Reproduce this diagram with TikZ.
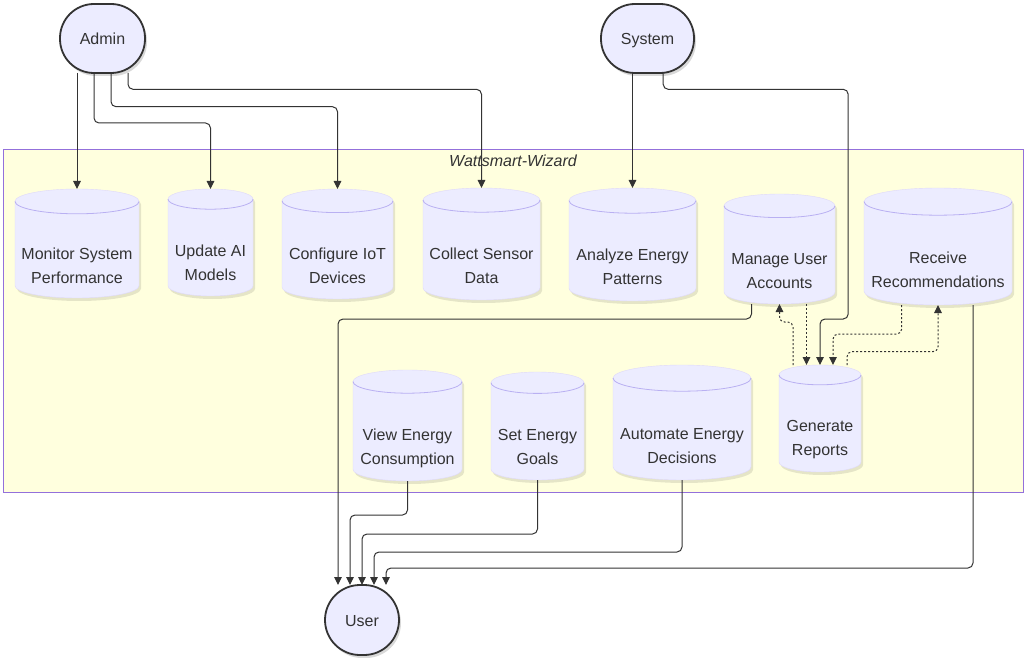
\documentclass[tikz,border=0pt]{standalone}
\usepackage{fontspec}
\setmainfont{Liberation Sans}
\usetikzlibrary{arrows.meta,shadows}
\definecolor{edgecol}{HTML}{333333}
\definecolor{textcol}{HTML}{333333}
\definecolor{nodefill}{HTML}{ECECFF}
\definecolor{clusterfill}{HTML}{FFFFDE}
\definecolor{clusterline}{HTML}{9370DB}
\definecolor{arccol}{HTML}{B9B0F2}
\newcommand{\cylnode}[7]{%
  \pgfmathsetmacro{\cyH}{#4-#3}%
  \pgfmathsetmacro{\cyC}{(#4+#3)/2}%
  \pgfmathsetmacro{\cyL}{#2-#5/2}%
  \pgfmathsetmacro{\cyR}{#2+#5/2}%
  \pgfmathsetmacro{\cyT}{#3+#6}%
  \pgfmathsetmacro{\cyB}{#4-#6}%
  \pgfmathsetmacro{\cyX}{#5/2}%
  \pgfmathsetmacro{\cyS}{#6+15}%
  \fill[cylshadow, shift={(2,3)}] (\cyL,\cyT) -- (\cyL,\cyB) arc[start angle=180,end angle=360,x radius=\cyX pt,y radius=#6pt] -- (\cyR,\cyT) arc[start angle=0,end angle=180,x radius=\cyX pt,y radius=#6pt] -- cycle;
  \filldraw[cylbody] (\cyL,\cyT) -- (\cyL,\cyB) arc[start angle=180,end angle=360,x radius=\cyX pt,y radius=#6pt] -- (\cyR,\cyT) arc[start angle=0,end angle=180,x radius=\cyX pt,y radius=#6pt] -- cycle;
  \draw[cylarc] (\cyL,\cyT) arc[start angle=180,end angle=360,x radius=\cyX pt,y radius=#6pt];
  \node[cylbox, minimum width=#5pt, minimum height=\cyH pt] (#1) at (#2,\cyC) {\raisebox{-\cyS pt}[0pt][0pt]{\begin{tabular}{@{}c@{}}#7\end{tabular}}};%
}
\tikzset{
  cylshadow/.style={fill=black, opacity=0.10},
  cylbody/.style={fill=nodefill, draw=nodefill!85!clusterline, line width=0.4pt},
  cylarc/.style={draw=arccol, line width=0.8pt},
  cylbox/.style={draw=none, inner sep=0pt, outer sep=0pt, text=textcol},
  actor/.style={draw=edgecol, line width=1.8pt, fill=nodefill, inner sep=0pt, outer sep=0pt, text=textcol,
    text height=13.5pt, text depth=1.5pt,
    drop shadow={shadow xshift=2pt, shadow yshift=-3pt, opacity=0.15, fill=black}},
  cluster/.style={draw=clusterline, line width=1pt, fill=clusterfill},
  titlelbl/.style={text=textcol, inner sep=0pt, font=\fontsize{16}{24}\selectfont\itshape},
  arr/.style={draw=edgecol, line width=1pt, rounded corners=5pt, -{Triangle[width=7.5pt,length=8pt]}},
  dotarr/.style={arr, dash pattern=on 2pt off 2pt}
}
\begin{document}
\begin{tikzpicture}[x=1pt, y=-1pt, font=\fontsize{16}{24}\selectfont]
\useasboundingbox (0,0) rectangle (1029,658);
\fill[white] (0,0) rectangle (1029,658);
% cluster
\draw[cluster] (3,150) rectangle (1023,492);
\node[titlelbl] (ttl) at (513,161) {Wattsmart-Wizard};
% actors
\node[actor, minimum width=85pt, minimum height=69pt, rounded corners=34pt] (admin) at (102.5,38.5) {Admin};
\node[actor, minimum width=93pt, minimum height=69pt, rounded corners=34pt] (system) at (647.5,38.5) {System};
\node[actor, minimum width=74pt, minimum height=70pt, rounded corners=35pt] (user) at (362,620) {User};
% cylinders: name, cx, top, bottom, width, ry, text
\cylnode{monitor}{77}{189}{298}{124}{12.4}{Monitor System\\Performance}
\cylnode{update}{210.5}{189}{296}{85}{10.1}{Update AI\\Models}
\cylnode{configure}{337.5}{189}{299}{111}{11.8}{Configure IoT\\Devices}
\cylnode{collect}{481.5}{188}{300}{117}{12.1}{Collect Sensor\\Data}
\cylnode{analyze}{632.5}{188}{301}{127}{12.6}{Analyze Energy\\Patterns}
\cylnode{manage}{779.5}{194}{304}{111}{11.8}{Manage User\\Accounts}
\cylnode{receive}{938}{188}{305}{148}{13.6}{Receive\\Recommendations}
\cylnode{view}{407.5}{370}{481}{109}{11.6}{View Energy\\Consumption}
\cylnode{setgoal}{537.5}{372}{480}{93}{10.7}{Set Energy\\Goals}
\cylnode{automate}{682}{365}{480}{138}{13.1}{Automate Energy\\Decisions}
\cylnode{generate}{820}{365}{472}{82}{9.9}{Generate\\Reports}
% Admin edges
\draw[arr] (admin.south -| monitor.north) -- (monitor.north);
\draw[arr] ([xshift=-8.5pt]admin.south) -- ++(0,50) -| (update.north);
\draw[arr] ([xshift=8.5pt]admin.south) -- ++(0,33.7) -| (configure.north);
\draw[arr] ([xshift=25.5pt]admin.south) -- ++(0,16.3) -| (collect.north);
% System edges
\draw[arr] (system.south -| analyze.north) -- (analyze.north);
\draw[arr] ([xshift=15.7pt]system.south) -- ++(0,16.3) -- ++(185,0) -- ++(0,229.7) -| (generate.north);
% Generate <-> Manage / Receive (dotted)
\draw[dotarr] ([xshift=-27pt]generate.north) -- ++(0,-43) -| (manage.south);
\draw[dotarr] ([xshift=27pt]manage.south) -- ([xshift=27pt]manage.south |- generate.north);
\draw[dotarr] ([xshift=-36.3pt]receive.south) -- ++(0,29) -| ([xshift=13pt]generate.north);
\draw[dotarr] ([xshift=27pt]generate.north) -- ++(0,-13.3) -| (receive.south);
% edges to User
\draw[arr] ([xshift=-28pt]manage.south) -- ++(0,15) -| ([xshift=-24pt]user.north);
\draw[arr] (view.south) -- ++(0,34) -| ([xshift=-12pt]user.north);
\draw[arr] (setgoal.south) -- ++(0,54) -| (user.north);
\draw[arr] (automate.south) -- ++(0,72) -| ([xshift=12pt]user.north);
\draw[arr] ([xshift=35pt]receive.south) -- ++(0,263) -| ([xshift=24pt]user.north);
\end{tikzpicture}
\end{document}
